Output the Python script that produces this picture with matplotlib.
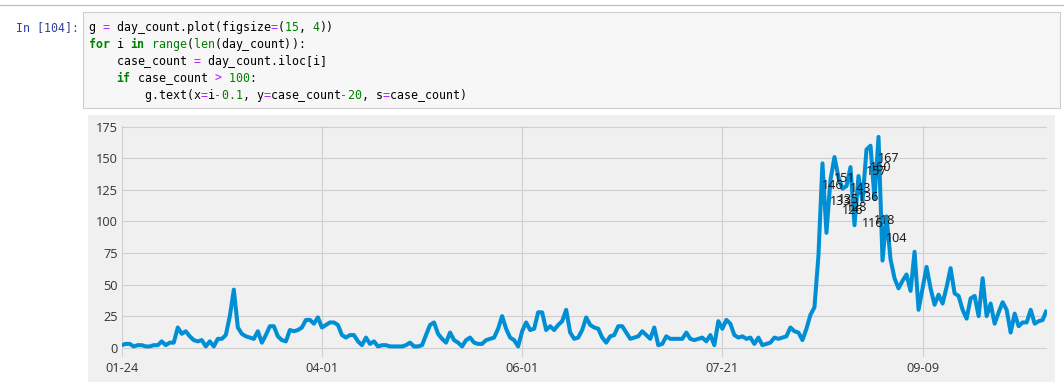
import matplotlib
matplotlib.use("Agg")
import matplotlib.pyplot as plt
from matplotlib.patches import Rectangle
from matplotlib.lines import Line2D
from matplotlib.ticker import MultipleLocator

# ---------------- data ----------------
day_count = [
    2, 3, 3, 1, 2, 2, 1, 1, 2, 2,
    5, 2, 4, 4, 16, 11, 13, 9, 6, 5,
    6, 1, 5, 1, 7, 7, 10, 25, 46, 16,
    11, 9, 8, 7, 13, 4, 10, 17, 17, 9,
    6, 5, 14, 13, 14, 16, 22, 22, 19, 24,
    16, 18, 20, 20, 18, 10, 8, 10, 10, 5,
    2, 8, 3, 5, 1, 2, 2, 1, 1, 1,
    1, 2, 4, 1, 1, 2, 10, 18, 20, 11,
    7, 4, 12, 6, 4, 1, 6, 8, 4, 3,
    3, 6, 7, 8, 15, 25, 15, 8, 6, 1,
    13, 20, 14, 15, 28, 28, 14, 17, 14, 18,
    21, 30, 12, 7, 8, 14, 24, 18, 16, 15,
    8, 4, 9, 10, 17, 17, 12, 7, 8, 9,
    13, 10, 7, 16, 2, 3, 9, 7, 7, 7,
    7, 12, 7, 6, 7, 8, 5, 10, 2, 21,
    15, 22, 19, 10, 8, 9, 7, 8, 3, 8,
    2, 3, 4, 8, 7, 8, 9, 16, 13, 12,
    6, 15, 26, 32, 73, 146, 91, 133, 151, 135,
    126, 128, 143, 97, 136, 116, 157, 160, 118, 167,
    69, 104, 70, 55, 47, 53, 58, 45, 76, 30,
    47, 64, 47, 34, 42, 35, 48, 63, 43, 41,
    30, 23, 39, 41, 25, 55, 25, 35, 19, 28,
    36, 30, 12, 27, 17, 20, 20, 30, 19, 21,
    22, 30,
]
tick_idx = [0, 50, 100, 150, 200]
tick_labels = ["01-24", "04-01", "06-01", "07-21", "09-09"]
threshold = 100

prompt = "In [104]:"
code_lines = [
    [("g ", "n"), ("=", "op"), (" day_count.plot(figsize", "n"), ("=", "op"), ("(", "n"),
     ("15", "num"), (", ", "n"), ("4", "num"), ("))", "n")],
    [("for", "kw"), (" i ", "n"), ("in", "kw"), (" ", "n"), ("range", "bi"), ("(", "n"),
     ("len", "bi"), ("(day_count)):", "n")],
    [("    case_count ", "n"), ("=", "op"), (" day_count.iloc[i]", "n")],
    [("    ", "n"), ("if", "kw"), (" case_count ", "n"), (">", "op"), (" ", "n"),
     ("100", "num"), (":", "n")],
    [("        g.text(x", "n"), ("=", "op"), ("i", "n"), ("-", "op"), ("0.1", "num"),
     (", y", "n"), ("=", "op"), ("case_count", "n"), ("-", "op"), ("20", "num"),
     (", s", "n"), ("=", "op"), ("case_count)", "n")],
]
styles = {
    "n": ("#000000", "normal"),
    "op": ("#AA22FF", "normal"),
    "num": ("#008000", "normal"),
    "kw": ("#008000", "bold"),
    "bi": ("#008000", "normal"),
}

# ---------------- figure ----------------
W, H = 1064, 389
fig = plt.figure(figsize=(W / 100, H / 100), dpi=100, facecolor="white")


def fx(px):
    return px / W


def fy(py):
    return 1 - py / H


# notebook chrome (drawn below the axes)
fig.add_artist(Line2D([0, 1], [fy(5), fy(5)], color="#bdbdbd", lw=0.9, zorder=-5))
fig.add_artist(Rectangle((fx(82.5), fy(107.7)), fx(1060) - fx(82.5), fy(11.7) - fy(107.7),
                         facecolor="#f7f7f7", edgecolor="#cfcfcf", lw=0.8, zorder=-5))
fig.add_artist(Rectangle((fx(88), fy(382)), fx(1055) - fx(88), fy(115) - fy(382),
                         facecolor="#f0f0f0", edgecolor="none", zorder=-5))

mono = "DejaVu Sans Mono"
csize = 8.37
cw = 7.0
x0 = 88.5
base0 = 30.7
lh = 17.08

fig.text(fx(16), fy(base0), prompt, family=mono, size=csize, color="#303F9F",
         ha="left", va="baseline")

for k, tokens in enumerate(code_lines):
    col = 0
    for txt, st in tokens:
        color, weight = styles[st]
        for ch in txt:
            if ch != " ":
                fig.text(fx(x0 + col * cw), fy(base0 + k * lh), ch,
                         family=mono, size=csize, color=color, weight=weight,
                         ha="left", va="baseline")
            col += 1

# ---------------- chart ----------------
sans = ["Open Sans", "DejaVu Sans"]
ax = fig.add_axes([fx(121.7), fy(356.9), (1046.7 - 121.7) / W, (356.9 - 126.4) / H])
ax.set_facecolor("#f0f0f0")
for s in ax.spines.values():
    s.set_visible(False)
ax.set_axisbelow(True)
ax.grid(True, color="#cfcfcf", lw=0.8)

xs = list(range(len(day_count)))
ax.plot(xs, day_count, color="#008fd5", lw=2.9, solid_capstyle="butt")

for i, v in enumerate(day_count):
    if v > threshold:
        ax.text(i - 0.1, v - 20, str(v), family=sans, size=9.0, color="#111111")

ax.set_xlim(0, len(day_count) - 1)
lo, hi = min(day_count), max(day_count)
pad = 0.05 * (hi - lo)
ax.set_ylim(lo - pad, hi + pad)
ax.yaxis.set_major_locator(MultipleLocator(25))
ax.set_xticks(tick_idx)
ax.set_xticklabels(tick_labels)
ax.tick_params(axis="both", length=0, labelsize=9.2, labelcolor="#333333")
ax.tick_params(axis="y", pad=3.0)
ax.tick_params(axis="x", pad=3.6)
for lab in ax.get_xticklabels() + ax.get_yticklabels():
    lab.set_family(sans)

fig.savefig("out.png", dpi=100, facecolor="white")
